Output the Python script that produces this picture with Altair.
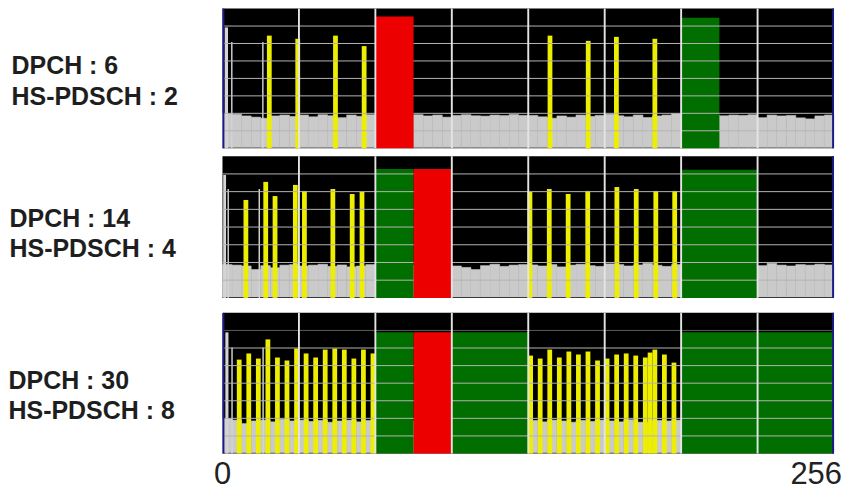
import altair as alt
import pandas as pd

# ---------------- data ----------------
panel_titles = [
    ["DPCH : 6", "HS-PDSCH : 2"],
    ["DPCH : 14", "HS-PDSCH : 4"],
    ["DPCH : 30", "HS-PDSCH : 8"],
]

# noise floor level (divisions) per 4-code bin, 64 bins per panel
noise1 = [1.97, 1.95, 1.85, 1.78, 1.72, 1.85, 1.90, 1.82, 1.90, 1.80, 1.92, 1.86, 1.75, 1.90, 1.83, 1.92,
          1.90, 1.90, 1.90, 1.90,
          1.92, 1.85, 1.90, 1.78, 1.88, 1.92, 1.86, 1.84, 1.90, 1.87, 1.93, 1.88,
          1.88, 1.80, 1.72, 1.85, 1.78, 1.90, 1.82, 1.88, 1.95, 1.86, 1.80, 1.90, 1.76, 1.85, 1.90, 1.98,
          1.90, 1.90, 1.90, 1.90,
          1.86, 1.90, 1.88, 1.92, 1.75, 1.90, 1.85, 1.88, 1.74, 1.68, 1.85, 1.90]
noise2 = [1.88, 1.85, 1.80, 1.60, 1.82, 1.70, 1.85, 1.88, 1.80, 1.85, 1.90, 1.78, 1.86, 1.75, 1.80, 1.88,
          1.85, 1.85, 1.85, 1.85, 1.85, 1.85, 1.85, 1.85,
          1.80, 1.72, 1.60, 1.82, 1.90, 1.78, 1.85, 1.88,
          1.86, 1.80, 1.88, 1.75, 1.85, 1.90, 1.82, 1.78, 1.92, 1.88, 1.80, 1.86, 1.95, 1.84, 1.78, 1.88,
          1.85, 1.85, 1.85, 1.85, 1.85, 1.85, 1.85, 1.85,
          1.82, 1.95, 1.85, 1.80, 1.88, 1.85, 1.90, 1.86]
noise3 = [1.97, 1.90, 1.70, 1.85, 1.90, 1.80, 1.95, 1.85, 1.90, 1.82, 1.88, 1.78, 1.85, 1.90, 1.80, 1.88,
          1.85, 1.85, 1.85, 1.85, 1.85, 1.85, 1.85, 1.85, 1.85, 1.85, 1.85, 1.85, 1.85, 1.85, 1.85, 1.85,
          1.88, 1.80, 1.90, 1.85, 1.78, 1.88, 1.82, 1.90, 1.85, 1.80, 1.92, 1.78, 1.75, 1.88, 1.85, 1.90,
          1.85, 1.85, 1.85, 1.85, 1.85, 1.85, 1.85, 1.85, 1.85, 1.85, 1.85, 1.85, 1.85, 1.85, 1.85, 1.85]

# common/control channels: code start, code end, level
ctrl1_start = [0.9, 3.6, 16.6]
ctrl1_end = [2.3, 4.2, 17.2]
ctrl1_lvl = [6.92, 6.08, 6.08]
ctrl2_start = [0.3, 2.1, 15.1]
ctrl2_end = [1.5, 2.7, 15.7]
ctrl2_lvl = [6.94, 6.15, 6.15]
ctrl3_start = [1.2, 3.7, 16.7]
ctrl3_end = [2.5, 4.3, 17.3]
ctrl3_lvl = [6.89, 6.03, 6.03]

# DPCH (yellow) code centres and levels
dpch1_code = [19.6, 31.5, 47.3, 59.3, 137.1, 153.1, 164.9, 181.0]
dpch1_lvl = [6.45, 6.27, 6.45, 5.85, 6.45, 6.15, 6.38, 6.27]
dpch2_code = [9.8, 18.1, 22.0, 30.5, 34.3, 46.2, 54.3, 58.4,
              128.7, 136.8, 144.7, 152.9, 165.1, 173.2, 181.4, 189.3]
dpch2_lvl = [5.53, 6.55, 5.75, 6.38, 6.04, 6.15, 5.87, 5.98,
             5.98, 6.15, 5.87, 6.04, 6.26, 6.15, 6.04, 6.04]
dpch3_code = [7, 11, 15, 19, 23, 27, 31, 35, 39, 43, 47, 51, 55, 59, 63,
              129, 133, 137, 141, 145, 149, 153, 157, 161, 165, 169, 173, 177, 179, 181, 185, 189]
dpch3_lvl = [5.34, 5.69, 5.40, 6.49, 5.46, 5.29, 5.97, 5.69, 5.46, 5.91, 5.97, 5.91, 5.40, 5.91, 5.69,
             5.57, 5.40, 5.91, 5.46, 5.80, 5.63, 5.80, 5.29, 5.40, 5.63, 5.69, 5.57, 5.46, 5.74, 5.91, 5.63, 5.17]

# HS-PDSCH blocks: start code, end code, level
green1_start, green1_end, green1_lvl = [192], [208], [7.48]
red1_start, red1_end, red1_lvl = [64], [80], [7.54]
green2_start, green2_end, green2_lvl = [64, 192], [80, 224], [7.28, 7.23]
red2_start, red2_end, red2_lvl = [80], [96], [7.28]
green3_start, green3_end, green3_lvl = [64, 96, 192], [80, 128, 256], [6.89, 6.89, 6.89]
red3_start, red3_end, red3_lvl = [80], [96], [6.89]

grid_levels = [1, 2, 3, 4, 5, 6, 7]
code_dividers = [32, 64, 96, 128, 160, 192, 224]
axis_codes = [0, 256]

# ---------------- chart ----------------
W = 613
heights = [140, 142, 141]
title_x = [-212, -214, -215]
title_y = [65, 70, 76]
title_lh = [31.5, 30.5, 30]

XS = alt.Scale(domain=[0, 256], nice=False, zero=False)
YS = alt.Scale(domain=[0, 8], nice=False, zero=False)

YELLOW = "#eeee00"
RED = "#ec0000"
GREEN = "#006f00"
NOISE = "#cacaca"
HALF_LINE = 0.4  # half width of divider lines, in codes


def make_yaxis(i):
    return alt.Axis(
        title=panel_titles[i], titleAngle=0, titleAlign="left", titleBaseline="alphabetic",
        titleX=title_x[i], titleY=title_y[i], titleFontSize=25, titleFontWeight="bold",
        titleFont="Liberation Sans", titleColor="#1e1e1e", titleLineHeight=title_lh[i],
        labels=False, ticks=False, domain=False, grid=False,
    )


def rects(df, color, yaxis, seamless=False):
    mark = alt.Chart(df).mark_rect(color=color, stroke=color, strokeWidth=0.6) if seamless \
        else alt.Chart(df).mark_rect(color=color)
    return mark.encode(
        x=alt.X("c0:Q", scale=XS, axis=None),
        x2="c1:Q",
        y=alt.Y("lvl:Q", scale=YS, axis=yaxis),
        y2="base:Q",
    )


def vlines(codes, color, yaxis):
    df = pd.DataFrame({"v": codes})
    df["c0"] = df["v"] - HALF_LINE
    df["c1"] = df["v"] + HALF_LINE
    df["lvl"] = 8
    df["base"] = 0
    return rects(df, color, yaxis)


def panel(i, noise, cs, ce, cl, dcode, dlvl, gs, ge, gl, rs, re, rl, left_edge, bottom_labels, top_gap):
    yaxis = make_yaxis(i)
    noise_df = pd.DataFrame({"c0": [4 * k for k in range(len(noise))],
                             "c1": [4 * k + 4 for k in range(len(noise))],
                             "lvl": noise, "base": 0.05})
    ctrl_df = pd.DataFrame({"c0": cs, "c1": ce, "lvl": cl, "base": 0})
    dpch_df = pd.DataFrame({"code": dcode, "lvl": dlvl})
    dpch_df["c0"] = dpch_df["code"] - 1.0
    dpch_df["c1"] = dpch_df["code"] + 1.0
    dpch_df["base"] = 0
    green_df = pd.DataFrame({"c0": gs, "c1": ge, "lvl": gl, "base": 0})
    red_df = pd.DataFrame({"c0": rs, "c1": re, "lvl": rl, "base": 0})

    layers = [rects(noise_df, NOISE, yaxis, seamless=True),
              rects(ctrl_df, "#d4d4d4", yaxis),
              rects(dpch_df, YELLOW, yaxis),
              rects(green_df, GREEN, yaxis)]

    grid_df = pd.DataFrame({"lvl": grid_levels})
    grid_df["col"] = ["light"] * 6 + (["dark"] if i == 2 else ["light"])
    layers.append(alt.Chart(grid_df).mark_rule(strokeWidth=1).encode(
        y=alt.Y("lvl:Q", scale=YS, axis=yaxis),
        color=alt.Color("col:N", scale=alt.Scale(domain=["light", "dark"], range=["#b4b4b4", "#5a5a5a"]), legend=None),
    ))
    layers.append(rects(red_df, RED, yaxis))
    layers.append(vlines(code_dividers, "#e4e4e4", yaxis))
    edges = [256 - HALF_LINE] + ([HALF_LINE] if left_edge else [])
    layers.append(vlines(edges, "#1a1a8a", yaxis))
    if top_gap:
        layers.append(alt.Chart(pd.DataFrame({"lvl": [8]})).mark_rule(color="white", strokeWidth=1).encode(
            x=alt.value(0), y=alt.value(-top_gap), y2=alt.value(0)))
    if bottom_labels:
        lab = pd.DataFrame({"code": axis_codes, "txt": [str(c) for c in axis_codes]})
        font = "Liberation Sans Narrow, Arial Narrow, Liberation Sans"
        layers.append(alt.Chart(lab[lab.code == 0]).mark_text(
            align="center", baseline="alphabetic", fontSize=31, font=font, color="#222222"
        ).encode(x=alt.X("code:Q", scale=XS, axis=None), y=alt.value(heights[i] + 31), text="txt:N"))
        layers.append(alt.Chart(lab[lab.code == 256]).mark_text(
            align="right", baseline="alphabetic", dx=8, fontSize=31, font=font, color="#222222"
        ).encode(x=alt.X("code:Q", scale=XS, axis=None), y=alt.value(heights[i] + 31), text="txt:N"))

    return alt.layer(*layers).properties(width=W, height=heights[i])


p1 = panel(0, noise1, ctrl1_start, ctrl1_end, ctrl1_lvl, dpch1_code, dpch1_lvl,
           green1_start, green1_end, green1_lvl, red1_start, red1_end, red1_lvl, True, False, 0)
p2 = panel(1, noise2, ctrl2_start, ctrl2_end, ctrl2_lvl, dpch2_code, dpch2_lvl,
           green2_start, green2_end, green2_lvl, red2_start, red2_end, red2_lvl, False, False, 0)
p3 = panel(2, noise3, ctrl3_start, ctrl3_end, ctrl3_lvl, dpch3_code, dpch3_lvl,
           green3_start, green3_end, green3_lvl, red3_start, red3_end, red3_lvl, True, True, 6)

chart = alt.vconcat(p1, p2, p3, spacing=8).properties(padding=0).configure_view(
    fill="black", stroke=None
)

chart.save("out.html", embed_options={"renderer": "svg", "actions": False})
